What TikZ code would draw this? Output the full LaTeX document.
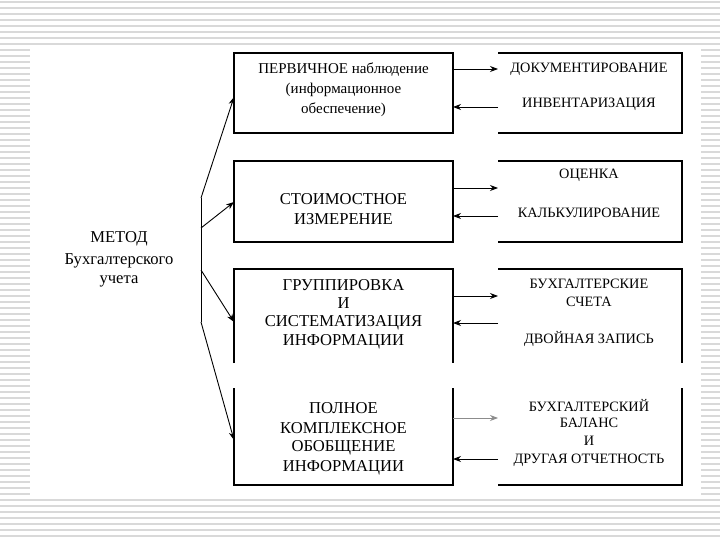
\documentclass[tikz,border=0pt]{standalone}
\usepackage{fontspec}
\setmainfont{Liberation Serif}
\usetikzlibrary{arrows.meta}
\begin{document}
\begin{tikzpicture}[x=1pt,y=-1pt,
  stripe/.style={draw=black!15,line width=2pt},
  boxframe/.style={draw=black,line width=1.3pt},
  slot/.style={draw=none,inner sep=0pt,outer sep=0pt},
  arr/.style={-{Stealth[length=8pt,width=6pt]},line width=0.9pt},
  ltxt/.style={font=\fontsize{16.6}{18}\selectfont,inner sep=0pt,anchor=center},
  stxt/.style={font=\fontsize{15}{16}\selectfont,inner sep=0pt,anchor=center},
  rtxt/.style={font=\fontsize{14.3}{16}\selectfont,inner sep=0pt,anchor=center}]
\useasboundingbox (0,0) rectangle (720,540);
% background stripes
\foreach \k in {0,...,90} {\draw[stripe] (0,\k*6+2) -- (720,\k*6+2);}
\fill[white] (30,47) rectangle (701,495);
% box slots
\node[slot,minimum width=219pt,minimum height=80pt] (L1) at (343.5,93) {};
\node[slot,minimum width=219pt,minimum height=81pt] (L2) at (343.5,201.5) {};
\node[slot,minimum width=219pt,minimum height=94pt] (L3) at (343.5,316) {};
\node[slot,minimum width=219pt,minimum height=97pt] (L4) at (343.5,436.5) {};
\node[slot,minimum width=184pt,minimum height=80pt] (R1) at (590,93) {};
\node[slot,minimum width=184pt,minimum height=81pt] (R2) at (590,201.5) {};
\node[slot,minimum width=184pt,minimum height=94pt] (R3) at (590,316) {};
\node[slot,minimum width=184pt,minimum height=97pt] (R4) at (590,436.5) {};
% frames
\draw[boxframe] (L1.south west) rectangle (L1.north east);
\draw[boxframe] (L2.south west) rectangle (L2.north east);
\draw[boxframe] (L3.south west) -- (L3.north west) -- (L3.north east) -- (L3.south east);
\draw[boxframe] (L4.north west) -- (L4.south west) -- (L4.south east) -- (L4.north east);
\draw[boxframe] (R1.north west) -- (R1.north east) -- (R1.south east) -- (R1.south west);
\draw[boxframe] (R2.north west) -- (R2.north east) -- (R2.south east) -- (R2.south west);
\draw[boxframe] (R3.north west) -- (R3.north east) -- (R3.south east);
\draw[boxframe] (R4.north east) -- (R4.south east) -- (R4.south west);
% left texts
\node[stxt] (t11) at (343.5,70) {ПЕРВИЧНОЕ наблюдение};
\node[stxt] (t12) at (343.5,90) {(информационное};
\node[stxt] (t13) at (343.5,110) {обеспечение)};
\node[ltxt] (t21) at (343.5,199) {СТОИМОСТНОЕ};
\node[ltxt] (t22) at (343.5,219) {ИЗМЕРЕНИЕ};
\node[ltxt] (t31) at (343.5,285) {ГРУППИРОВКА};
\node[ltxt] (t32) at (343.5,303) {И};
\node[ltxt] (t33) at (343.5,323) {СИСТЕМАТИЗАЦИЯ};
\node[ltxt] (t34) at (343.5,342) {ИНФОРМАЦИИ};
\node[ltxt] (t41) at (343.5,408) {ПОЛНОЕ};
\node[ltxt] (t42) at (343.5,428) {КОМПЛЕКСНОЕ};
\node[ltxt] (t43) at (343.5,448) {ОБОБЩЕНИЕ};
\node[ltxt] (t44) at (343.5,468) {ИНФОРМАЦИИ};
% right texts
\node[rtxt] (u11) at (589,69) {ДОКУМЕНТИРОВАНИЕ};
\node[rtxt] (u12) at (589,104) {ИНВЕНТАРИЗАЦИЯ};
\node[rtxt] (u21) at (589,175) {ОЦЕНКА};
\node[rtxt] (u22) at (589,213) {КАЛЬКУЛИРОВАНИЕ};
\node[rtxt] (u31) at (589,284) {БУХГАЛТЕРСКИЕ};
\node[rtxt] (u32) at (589,302) {СЧЕТА};
\node[rtxt] (u33) at (589,339) {ДВОЙНАЯ ЗАПИСЬ};
\node[rtxt] (u41) at (589,406) {БУХГАЛТЕРСКИЙ};
\node[rtxt] (u42) at (589,423) {БАЛАНС};
\node[rtxt] (u43) at (589,441) {И};
\node[rtxt] (u44) at (589,460) {ДРУГАЯ ОТЧЕТНОСТЬ};
% method
\node[ltxt] (m1) at (119,239) {МЕТОД};
\node[ltxt] (m2) at (119,261) {Бухгалтерского};
\node[ltxt] (m3) at (119,281) {учета};
% horizontal connectors
\foreach \yy/\n in {69/a1,107/b1,188/a2,216/b2,296/a3,323/b3,418/a4,459/b4} {\coordinate (\n) at (0,\yy);}
\draw[arr] (L1.east |- a1) -- (R1.west |- a1);
\draw[arr] (R1.west |- b1) -- (L1.east |- b1);
\draw[arr] (L2.east |- a2) -- (R2.west |- a2);
\draw[arr] (R2.west |- b2) -- (L2.east |- b2);
\draw[arr] (L3.east |- a3) -- (R3.west |- a3);
\draw[arr] (R3.west |- b3) -- (L3.east |- b3);
\draw[arr,draw=black!45,fill=black] (L4.east |- a4) -- (R4.west |- a4);
\draw[arr] (R4.west |- b4) -- (L4.east |- b4);
% fan
\coordinate (f1) at (201,198);
\coordinate (f2) at (201,228);
\coordinate (f3) at (201,270);
\coordinate (f4) at (201,322);
\coordinate (e1) at (0,97);
\coordinate (e2) at (0,202);
\coordinate (e3) at (0,322);
\coordinate (e4) at (0,440);
\draw[line width=0.9pt] (f1) -- (f4);
\draw[arr] (f1) -- (L1.west |- e1);
\draw[arr] (f2) -- (L2.west |- e2);
\draw[arr] (f3) -- (L3.west |- e3);
\draw[arr] (f4) -- (L4.west |- e4);
\end{tikzpicture}
\end{document}
